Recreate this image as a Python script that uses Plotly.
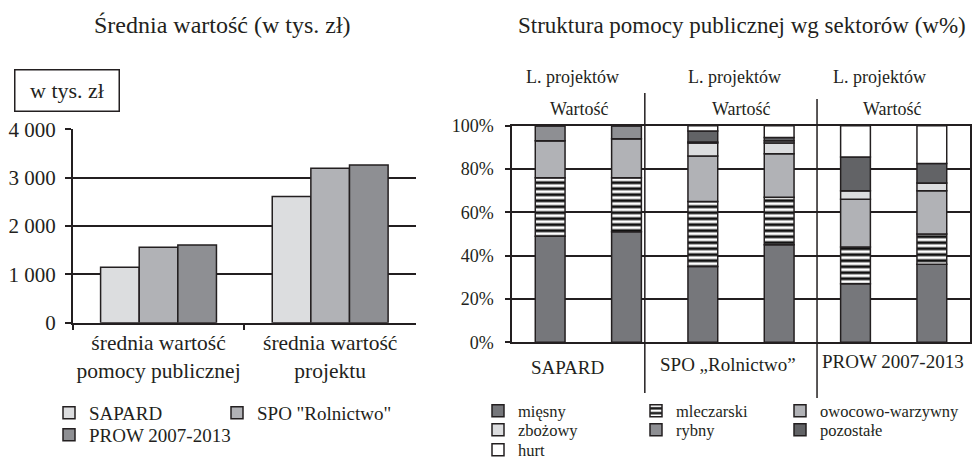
import numpy as np
import plotly.graph_objects as go

# lewy wykres - srednia wartosc (tys. zl)
groups = ["średnia wartość<br>pomocy publicznej", "średnia wartość<br>projektu"]
sapard = [1150, 2610]
spo = [1560, 3195]
prow = [1610, 3265]
y_ticks = [0, 1000, 2000, 3000, 4000]
y_ticktext = ["0", "1 000", "2 000", "3 000", "4 000"]

# prawy wykres - struktura wg sektorow (%)
bars = ["SAPARD L", "SAPARD W", "SPO L", "SPO W", "PROW L", "PROW W"]
programs = ["SAPARD", "SPO „Rolnictwo”", "PROW 2007-2013"]
miesny = [49, 51, 35, 45, 27, 36]
mleczarski = [27, 25, 30, 22, 17, 14]
owocowo = [17, 18, 21, 20, 22, 20]
zbozowy = [0, 0, 6, 5, 4, 3.5]
rybny = [7, 6, 0.5, 1, 0, 0]
pozostale = [0, 0, 5, 1.5, 15.5, 9]
hurt = [0, 0, 2.5, 5.5, 14.5, 17.5]

SERIF = "Liberation Serif"
INK = "#231f20"
# okno ma 973x459; figura jest nieco wyzsza, zeby ostatni wiersz legendy sie zmiescil
W, H = 973, 468

def px_x(v):
    return v / W

def px_y(v):
    return 1 - v / H

def f(size):
    return dict(family=SERIF, size=size, color=INK)

fig = go.Figure()

# --- lewy ---
left = [("SAPARD", sapard, "#dcdddf", -0.3375, "legend"),
        ('SPO "Rolnictwo"', spo, "#b1b2b6", -0.1125, "legend2"),
        ("PROW 2007-2013", prow, "#8e8f93", 0.1125, "legend3")]
for name, vals, col, off, leg in left:
    fig.add_trace(go.Bar(
        x=groups, y=vals, name=name, width=0.225, offset=off,
        marker=dict(color=col, line=dict(color=INK, width=1.5)),
        xaxis="x", yaxis="y", legend=leg))

# --- prawy ---
series = [("mięsny", miesny, "#76777b", None, "legend4"),
          ("mleczarski", mleczarski, "white", "-", "legend4"),
          ("owocowo-warzywny", owocowo, "#b1b2b6", None, "legend5"),
          ("zbożowy", zbozowy, "#dcdddf", None, "legend6"),
          ("rybny", rybny, "#8e8f93", None, "legend6"),
          ("pozostałe", pozostale, "#626366", None, "legend7"),
          ("hurt", hurt, "white", None, "legend8")]
base = np.zeros(len(bars))
for name, vals, col, pat, leg in series:
    marker = dict(color=col, line=dict(color=INK, width=1.5))
    if pat:
        marker["pattern"] = dict(shape=pat, fgcolor="#111111", bgcolor="white",
                                 size=6, solidity=0.5, fillmode="replace")
    fig.add_trace(go.Bar(
        x=bars, y=vals, base=base.copy(), name=name, width=0.39,
        marker=marker, xaxis="x2", yaxis="y2", legend=leg))
    base = base + np.array(vals)

fig.update_layout(
    width=W, height=H,
    margin=dict(l=0, r=0, t=0, b=0, autoexpand=False),
    paper_bgcolor="white", plot_bgcolor="white",
    barmode="overlay",
    font=dict(family=SERIF, color=INK),
    showlegend=True,
    xaxis=dict(domain=[px_x(72.7), px_x(416)], showline=True, linecolor=INK, linewidth=1.5,
               ticks="outside", tickson="boundaries", ticklen=6, tickcolor=INK, tickwidth=1.5,
               tickfont=f(21.5), tickangle=0, showgrid=False),
    yaxis=dict(domain=[px_y(322.7), px_y(129.4)], range=[0, 4000], tickvals=y_ticks,
               ticktext=y_ticktext, showline=True, linecolor=INK, linewidth=1.5,
               ticks="outside", ticklen=6, tickcolor=INK, tickwidth=1.5,
               gridcolor=INK, gridwidth=1.5, zeroline=False, tickfont=f(21),
               ticklabelstandoff=5),
    xaxis2=dict(domain=[px_x(512), px_x(970)], anchor="y2", showline=True, mirror=True,
                linecolor=INK, linewidth=1.5, showticklabels=False, ticks="", showgrid=False),
    yaxis2=dict(domain=[px_y(342.3), px_y(125.7)], anchor="x2", range=[0, 100], dtick=20,
                ticksuffix="%", showline=True, mirror=True, linecolor=INK, linewidth=1.5,
                ticks="outside", ticklen=5, tickcolor=INK, tickwidth=1.5,
                gridcolor=INK, gridwidth=1.5, zeroline=False,
                tickfont=f(18), ticklabelstandoff=8),
)

leg_common = dict(orientation="h", xanchor="left", yanchor="middle", bgcolor="rgba(0,0,0,0)",
                  entrywidthmode="pixels", itemclick=False, itemdoubleclick=False)
# (legenda, x w px, y srodka wiersza w px, rozmiar czcionki, szerokosc wpisu)
leg_pos = [("legend", 49, 413, 19, None), ("legend2", 217, 413, 19, None),
           ("legend3", 49, 435, 19, None),
           ("legend4", 478, 411, 16.5, 113), ("legend5", 780, 411, 16.5, None),
           ("legend6", 478, 430, 16.5, 113), ("legend7", 780, 430, 16.5, None),
           ("legend8", 478, 450, 16.5, None)]
for key, lx, ly, fs, ew in leg_pos:
    cfg = dict(leg_common, x=px_x(lx), y=px_y(ly), font=f(fs))
    if ew:
        cfg["entrywidth"] = ew
    fig.update_layout({key: cfg})

titles = [("Średnia wartość (w tys. zł)", 222, 24), ("Struktura pomocy publicznej wg sektorów (w%)", 742, 23)]
for text, tx, size in titles:
    fig.add_annotation(text=text, xref="paper", yref="paper", x=px_x(tx), y=px_y(25),
                       xanchor="center", yanchor="middle", showarrow=False, font=f(size))

fig.add_annotation(text="w tys. zł", xref="paper", yref="paper", x=px_x(66.5), y=px_y(91),
                   xanchor="center", yanchor="middle",
                   showarrow=False, width=103, height=40, bordercolor=INK, borderwidth=1.5,
                   borderpad=0, bgcolor="white", font=f(22))

# etykiety nad slupkami i pod osia (pozycje w jednostkach osi kategorii)
top_l = [0.29, 2.42, 4.32]
top_w = [0.38, 2.5, 4.48]
bottom = [0.23, 2.33, 4.49]
for i, p in enumerate(programs):
    fig.add_annotation(text="L. projektów", xref="x2", yref="paper", x=top_l[i], y=px_y(77),
                       xanchor="center", yanchor="middle", showarrow=False, font=f(18))
    fig.add_annotation(text="Wartość", xref="x2", yref="paper", x=top_w[i], y=px_y(109),
                       xanchor="center", yanchor="middle", showarrow=False, font=f(18))
    fig.add_annotation(text=p, xref="x2", yref="paper", x=bottom[i], y=px_y(367 - 3 * i),
                       xanchor="center", yanchor="middle", showarrow=False, font=f(19))

for xs, y0, y1 in [(1.24, 393, 93), (3.496, 398, 99)]:
    fig.add_shape(type="line", xref="x2", yref="paper", x0=xs, x1=xs,
                  y0=px_y(y0), y1=px_y(y1), line=dict(color=INK, width=1.5))

# strona bez domyslnego marginesu body (8 px) i bez pasków przewijania
fig.write_html("out.html", config={"displayModeBar": False},
               post_script="document.body.style.margin='0';document.body.style.overflow='hidden';")
